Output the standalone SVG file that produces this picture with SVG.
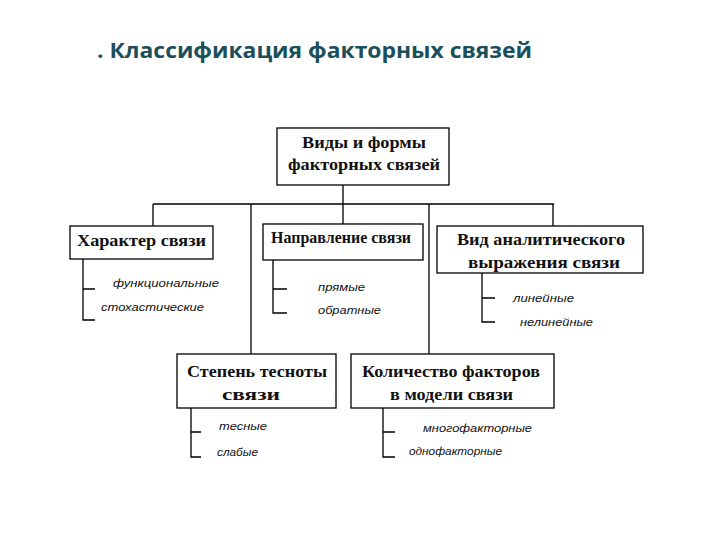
<svg xmlns="http://www.w3.org/2000/svg" width="720" height="540" viewBox="0 0 720 540">
<style>
.bg{fill:#ffffff}
.box{fill:#ffffff;stroke:#000000;stroke-width:1.3}
.ln{fill:none;stroke:#000000;stroke-width:1.3}
.t{font-family:"Liberation Serif","Times New Roman",serif;font-weight:bold;font-size:16px;fill:#111111;text-anchor:middle}
.s{font-family:"Liberation Sans",Arial,sans-serif;font-style:italic;font-size:11px;fill:#111111}
.title{font-family:"Open Sans","Noto Sans","DejaVu Sans",sans-serif;font-weight:bold;font-size:21px;fill:#1b4f5c}
</style>
<rect class="bg" x="0" y="0" width="720" height="540"/>
<text class="title" x="97" y="58" textLength="435" lengthAdjust="spacingAndGlyphs">. Классификация факторных связей</text>

<g id="connectors">
<path class="ln" d="M343 185V204M153 204H554M153 204V226M251 204V354M343 204V224M429 204V354M553 204V226"/>
<path class="ln" d="M83 259V320H95M83 289H95"/>
<path class="ln" d="M273 260V313H287M273 289H287"/>
<path class="ln" d="M482 273V322H495M482 298H495"/>
<path class="ln" d="M191 408V457H201M191 432H201"/>
<path class="ln" d="M383 408V457H395M383 432H395"/>
</g>

<g id="root">
<rect class="box" x="277" y="128" width="172" height="57"/>
<text class="t" x="364" y="148" textLength="124" lengthAdjust="spacingAndGlyphs">Виды и формы</text>
<text class="t" x="364" y="170" textLength="152" lengthAdjust="spacingAndGlyphs">факторных связей</text>
</g>

<g id="harakter">
<rect class="box" x="70" y="226" width="143" height="33"/>
<text class="t" x="141.5" y="246" textLength="129" lengthAdjust="spacingAndGlyphs">Характер связи</text>
<text class="s" x="113" y="287" textLength="106" lengthAdjust="spacingAndGlyphs">функциональные</text>
<text class="s" x="101" y="311" textLength="103" lengthAdjust="spacingAndGlyphs">стохастические</text>
</g>

<g id="napravlenie">
<rect class="box" x="263" y="224" width="160" height="36"/>
<text class="t" x="341" y="243" textLength="140" lengthAdjust="spacingAndGlyphs">Направление связи</text>
<text class="s" x="318" y="291" textLength="47" lengthAdjust="spacingAndGlyphs">прямые</text>
<text class="s" x="318" y="314" textLength="63" lengthAdjust="spacingAndGlyphs">обратные</text>
</g>

<g id="vid">
<rect class="box" x="437" y="226" width="206" height="47"/>
<text class="t" x="541" y="245" textLength="168" lengthAdjust="spacingAndGlyphs">Вид аналитического</text>
<text class="t" x="544" y="268" textLength="152" lengthAdjust="spacingAndGlyphs">выражения связи</text>
<text class="s" x="513" y="302" textLength="61" lengthAdjust="spacingAndGlyphs">линейные</text>
<text class="s" x="520" y="326" textLength="73" lengthAdjust="spacingAndGlyphs">нелинейные</text>
</g>

<g id="stepen">
<rect class="box" x="177" y="354" width="159" height="54"/>
<text class="t" x="257" y="377" textLength="140" lengthAdjust="spacingAndGlyphs">Степень тесноты</text>
<text class="t" x="251" y="400" textLength="58" lengthAdjust="spacingAndGlyphs">связи</text>
<text class="s" x="219" y="430" textLength="48" lengthAdjust="spacingAndGlyphs">тесные</text>
<text class="s" x="217" y="456" textLength="41" lengthAdjust="spacingAndGlyphs">слабые</text>
</g>

<g id="kolichestvo">
<rect class="box" x="351" y="354" width="203" height="54"/>
<text class="t" x="451" y="377" textLength="178" lengthAdjust="spacingAndGlyphs">Количество факторов</text>
<text class="t" x="451.5" y="400" textLength="123" lengthAdjust="spacingAndGlyphs">в модели связи</text>
<text class="s" x="423" y="432" textLength="109" lengthAdjust="spacingAndGlyphs">многофакторные</text>
<text class="s" x="409" y="455" textLength="93" lengthAdjust="spacingAndGlyphs">однофакторные</text>
</g>
</svg>
